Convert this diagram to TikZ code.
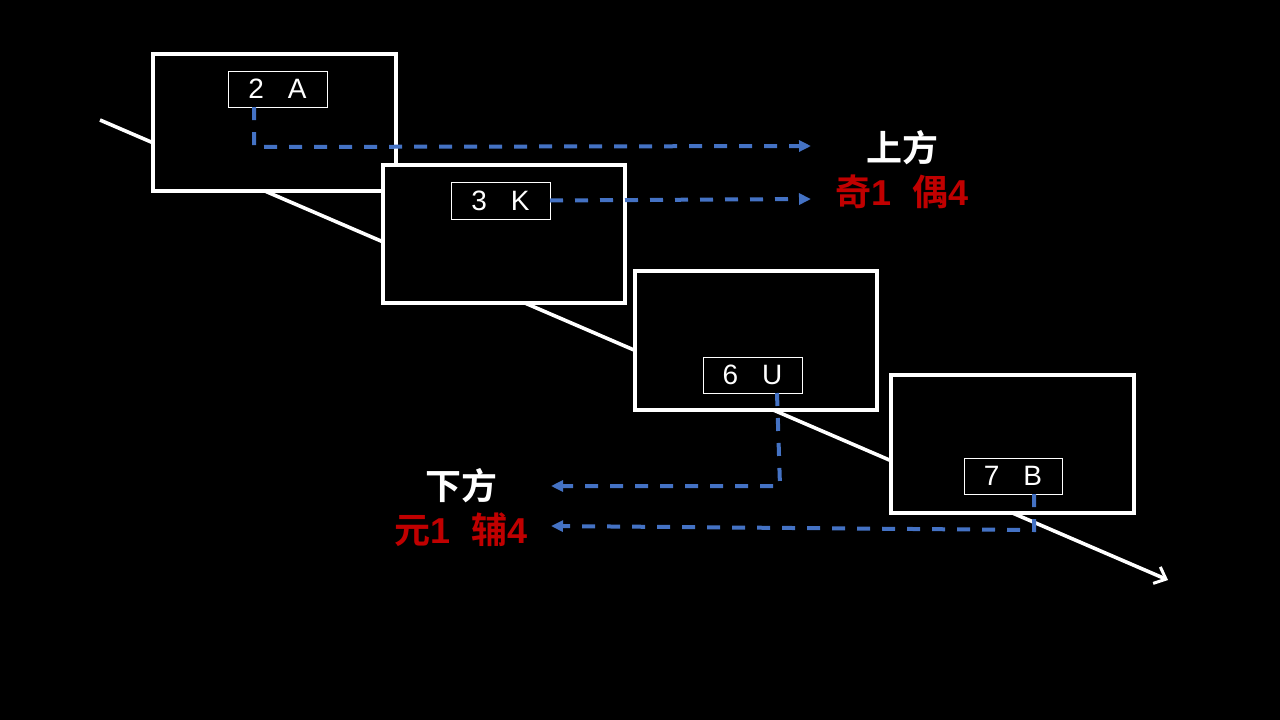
\documentclass[tikz,border=0pt]{standalone}
\usepackage{fontspec}
\setmainfont{Liberation Sans}
\newfontfamily\cjk{Noto Sans CJK SC}[BoldFont={Noto Sans CJK SC Bold}]
\newfontfamily\digf{Liberation Sans}
\usetikzlibrary{arrows.meta}
\definecolor{connblue}{RGB}{68,114,196}
\definecolor{labred}{RGB}{192,0,0}
\newcommand{\dg}[1]{{\digf\bfseries #1}}
\begin{document}
\begin{tikzpicture}[x=1pt,y=-1pt,
  bigbox/.style={draw=white,line width=3.6pt,fill=black,minimum width=243pt,minimum height=138pt,inner sep=0pt,outer sep=0pt},
  tagbox/.style={draw=white,line width=1pt,fill=black,minimum width=99pt,minimum height=36pt,inner sep=0pt,outer sep=0pt,text=white,font=\fontsize{28}{30}\selectfont},
  conn/.style={draw=connblue,line width=4pt,dash pattern=on 13pt off 12pt},
  tipb/.style={-{Triangle[length=12pt,width=11pt]}},
  lab/.style={font=\cjk\bfseries\fontsize{36}{40}\selectfont,inner sep=0pt},
]
\fill[black] (0,0) rectangle (1280,720);
\useasboundingbox (0,0) rectangle (1280,720);
% main diagonal
\coordinate (ls) at (100,120);
\coordinate (le) at (1168,580);
\draw[white,line width=3.6pt,-{Straight Barb[length=10pt,width=18pt,line width=3pt]}] (ls) -- (le);
% big boxes
\node[bigbox,minimum width=243pt,minimum height=137pt] (b1) at (274.5,122.5) {};
\node[bigbox,minimum width=242pt] (b2) at (504,234) {};
\node[bigbox,minimum width=242pt,minimum height=139pt] (b3) at (756,340.5) {};
\node[bigbox] (b4) at (1012.5,444) {};
% tag boxes
\node[tagbox] (t1) at (277.5,89) {2\hspace{24pt}A};
\node[tagbox,minimum height=37pt] (t2) at (500.5,200.5) {3\hspace{24pt}K};
\node[tagbox] (t3) at (752.5,375) {6\hspace{24pt}U};
\node[tagbox,minimum width=98pt] (t4) at (1013,476) {7\hspace{24pt}B};
% labels
\node[lab,text=white] (up) at (902,148) {上方};
\node[lab,text=labred] (upr) at (902,192) {奇\dg{1}\hspace{20pt}偶\dg{4}};
\node[lab,text=white] (dn) at (461,486) {下方};
\node[lab,text=labred] (dnr) at (461,530) {元\dg{1}\hspace{20pt}辅\dg{4}};
% arrow ends
\coordinate (e1) at (811,146);
\coordinate (e2) at (811,199);
\coordinate (e3) at (551,486);
\coordinate (e4) at (551,526);
% connectors
\draw[conn,tipb] ([xshift=-23.5pt]t1.south) -- ++(0,40) -- (e1);
\draw[conn,tipb] (t2.east) -- (e2);
\draw[conn,tipb] ([xshift=24.5pt]t3.south) -- (780,486) -- (e3);
\draw[conn,tipb] ([xshift=21pt]t4.south) -- (1034,530) -- (e4);
\end{tikzpicture}
\end{document}
